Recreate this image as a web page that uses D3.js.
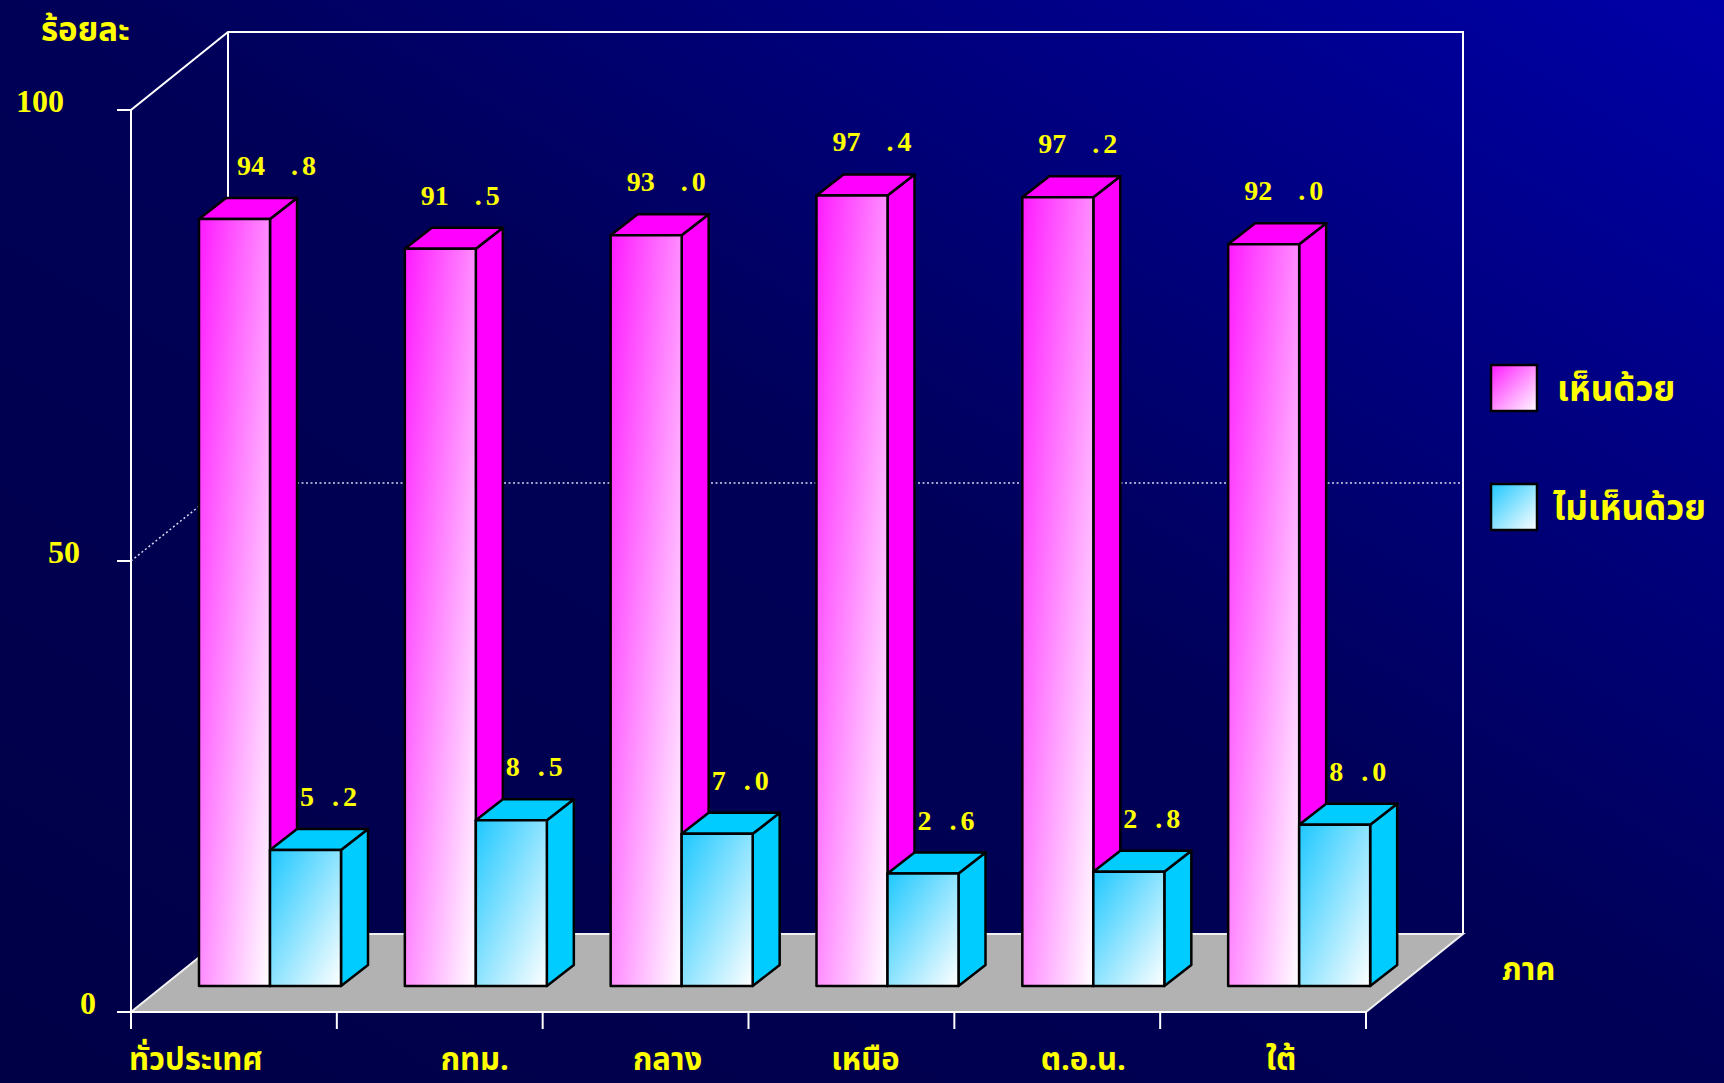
<!DOCTYPE html>
<html>
<head>
<meta charset="utf-8">
<script src="https://cdnjs.cloudflare.com/ajax/libs/d3/7.8.5/d3.min.js"></script>
<style>
  html, body { margin: 0; padding: 0; background: #00004c; overflow: hidden; }
  .thai { font-family: "Noto Sans Thai", "Noto Serif Thai", "Loma", "Garuda", "Norasi", "DejaVu Sans", sans-serif; font-weight: bold; fill: #ffff00; }
  .num { font-family: "Liberation Serif", "DejaVu Serif", serif; font-weight: bold; fill: #ffff00; }
</style>
</head>
<body>
<div id="chart"></div>
<script>
// data
var regions = ["ทั่วประเทศ", "กทม.", "กลาง", "เหนือ", "ต.อ.น.", "ใต้"];
var agree = [94.8, 91.5, 93.0, 97.4, 97.2, 92.0];
var disagree = [5.2, 8.5, 7.0, 2.6, 2.8, 8.0];
var seriesNames = ["เห็นด้วย", "ไม่เห็นด้วย"];
var yTicks = [0, 50, 100];

var width = 1724, height = 1083;

// front plane of the box and its depth
var frontLeft = 131, frontRight = 1366, floorY = 1012, topY = 110;
var depthX = 97, depthY = -78;
// bars stand a third of the way back, and are ~0.28 of the depth deep
var barShiftX = 32, barShiftY = -26;
var barDepthX = 27, barDepthY = -21;

var svg = d3.select("#chart").append("svg")
  .attr("width", width)
  .attr("height", height);

var defs = svg.append("defs");

var bgGrad = defs.append("linearGradient")
  .attr("id", "bg")
  .attr("x1", 1).attr("y1", 0).attr("x2", 0).attr("y2", 1);
bgGrad.append("stop").attr("offset", 0).attr("stop-color", "#0000a8");
bgGrad.append("stop").attr("offset", 0.48).attr("stop-color", "#000058");
bgGrad.append("stop").attr("offset", 1).attr("stop-color", "#000046");

function faceGradient(id, color) {
  var g = defs.append("linearGradient")
    .attr("id", id)
    .attr("x1", 0).attr("y1", 0).attr("x2", 1).attr("y2", 1);
  g.append("stop").attr("offset", 0).attr("stop-color", color);
  g.append("stop").attr("offset", 1).attr("stop-color", "#ffffff");
}
faceGradient("pinkFace", "#ff1aff");
faceGradient("cyanFace", "#1ec8ff");

var seriesStyle = [
  { face: "url(#pinkFace)", solid: "#ff00ff", lift: 88, decGap: 26, nudge: [22, 0, 0, 0, 0, 0] },
  { face: "url(#cyanFace)", solid: "#00ccff", lift: -89, decGap: 18, nudge: [0, 0, 0, 0, 0, 0] }
];

svg.append("rect")
  .attr("width", width)
  .attr("height", height)
  .attr("fill", "url(#bg)");

// scales
var x = d3.scaleBand()
  .domain(regions)
  .range([frontLeft, frontRight]);

var xSeries = d3.scaleBand()
  .domain(seriesNames)
  .range([0, 142]);

var y = d3.scaleLinear()
  .domain([0, 100])
  .range([floorY, topY]);

// same scale, moved to the plane where the bars stand
var barBottom = floorY + barShiftY;
var ySeries = seriesStyle.map(function(s) {
  return d3.scaleLinear()
    .domain([0, 100])
    .range([barBottom + s.lift, y(100) + barShiftY + s.lift]);
});

function pts(arr) {
  return arr.map(function(p) { return p[0] + "," + p[1]; }).join(" ");
}

var walls = svg.append("g")
  .attr("fill", "none")
  .attr("stroke", "#ffffff")
  .attr("stroke-width", 2);

// floor
svg.append("polygon")
  .attr("points", pts([
    [frontLeft, floorY], [frontRight, floorY],
    [frontRight + depthX, floorY + depthY], [frontLeft + depthX, floorY + depthY]
  ]))
  .attr("fill", "#b2b2b2")
  .attr("stroke", "#f0f0f0")
  .attr("stroke-width", 2);

// back wall + side wall outline
walls.append("polyline")
  .attr("points", pts([
    [frontLeft, y(0)], [frontLeft, y(100)],
    [frontLeft + depthX, y(100) + depthY],
    [frontRight + depthX, y(100) + depthY],
    [frontRight + depthX, y(0) + depthY]
  ]));
walls.append("line")
  .attr("x1", frontLeft + depthX).attr("y1", y(100) + depthY)
  .attr("x2", frontLeft + depthX).attr("y2", y(0) + depthY);

// gridline at 50
svg.append("polyline")
  .attr("points", pts([
    [frontLeft, y(50)], [frontLeft + depthX, y(50) + depthY], [frontRight + depthX, y(50) + depthY]
  ]))
  .attr("fill", "none")
  .attr("stroke", "#d8d8f0")
  .attr("stroke-width", 1.5)
  .attr("stroke-dasharray", "2,2.5");

// y ticks and labels
var yLabelX = d3.scaleLinear().domain([0, 100]).range([88, 40]);

svg.append("g").selectAll("line")
  .data(yTicks)
  .enter().append("line")
  .attr("x1", frontLeft - 14)
  .attr("x2", frontLeft)
  .attr("y1", function(d) { return y(d); })
  .attr("y2", function(d) { return y(d); })
  .attr("stroke", "#ffffff")
  .attr("stroke-width", 2);

svg.append("g").selectAll("text")
  .data(yTicks)
  .enter().append("text")
  .attr("class", "num")
  .attr("x", function(d) { return yLabelX(d); })
  .attr("y", function(d) { return y(d) + 2; })
  .attr("text-anchor", "middle")
  .attr("font-size", 32)
  .text(function(d) { return d; });

// x axis ticks
var xEdges = regions.map(function(d) { return x(d); }).concat([frontRight]);
svg.append("g").selectAll("line")
  .data(xEdges)
  .enter().append("line")
  .attr("x1", function(d) { return d; })
  .attr("x2", function(d) { return d; })
  .attr("y1", floorY)
  .attr("y2", floorY + 17)
  .attr("stroke", "#ffffff")
  .attr("stroke-width", 2);

svg.append("line")
  .attr("x1", frontLeft - 14).attr("x2", frontRight)
  .attr("y1", floorY).attr("y2", floorY)
  .attr("stroke", "#ffffff")
  .attr("stroke-width", 2);

// category labels (nudged like in the source slide)
var catNudge = [-38, 35, 22, 14, 26, 18];
svg.append("g").selectAll("text")
  .data(regions)
  .enter().append("text")
  .attr("class", "thai")
  .attr("x", function(d, i) { return x(d) + x.bandwidth() / 2 + catNudge[i]; })
  .attr("y", 1070)
  .attr("text-anchor", "middle")
  .attr("font-size", 31)
  .text(function(d) { return d; });

// bars
var barLayer = svg.append("g");

function drawBar(g, x0, w, yTop, yBot, style) {
  var dx = barDepthX, dy = barDepthY;
  g.append("polygon")
    .attr("points", pts([[x0 + w, yTop], [x0 + w + dx, yTop + dy], [x0 + w + dx, yBot + dy], [x0 + w, yBot]]))
    .attr("fill", style.solid);
  g.append("polygon")
    .attr("points", pts([[x0, yTop], [x0 + dx, yTop + dy], [x0 + w + dx, yTop + dy], [x0 + w, yTop]]))
    .attr("fill", style.solid);
  g.append("rect")
    .attr("x", x0)
    .attr("y", yTop)
    .attr("width", w)
    .attr("height", yBot - yTop)
    .attr("fill", style.face);
  g.selectAll("*")
    .attr("stroke", "#000000")
    .attr("stroke-width", 2.5)
    .attr("stroke-linejoin", "round");
}

var seriesValues = [agree, disagree];

regions.forEach(function(r, i) {
  seriesNames.forEach(function(s, k) {
    var v = seriesValues[k][i];
    var x0 = x(r) + 36 + barShiftX + xSeries(s);
    var yTop = ySeries[k](v);
    var g = barLayer.append("g");
    drawBar(g, x0, xSeries.bandwidth(), yTop, barBottom, seriesStyle[k]);

    var parts = v.toFixed(1).split(".");
    var lx = x0 + 44 + seriesStyle[k].nudge[i];
    var ly = yTop - 44;
    g.append("text")
      .attr("class", "num")
      .attr("x", lx)
      .attr("y", ly)
      .attr("text-anchor", "end")
      .attr("font-size", 28)
      .text(parts[0]);
    var dec = g.append("text")
      .attr("class", "num")
      .attr("x", lx + seriesStyle[k].decGap)
      .attr("y", ly)
      .attr("font-size", 28);
    dec.append("tspan").text(".");
    dec.append("tspan").attr("dx", 4).text(parts[1]);
  });
});

// legend
var legend = svg.append("g").selectAll("g")
  .data(seriesNames)
  .enter().append("g")
  .attr("transform", function(d, i) { return "translate(1491," + (365 + i * 119) + ")"; });

legend.append("rect")
  .attr("width", 46)
  .attr("height", 46)
  .attr("fill", function(d, i) { return seriesStyle[i].face; })
  .attr("stroke", "#000000")
  .attr("stroke-width", 2.5);

legend.append("text")
  .attr("class", "thai")
  .attr("x", function(d, i) { return i == 0 ? 66 : 62; })
  .attr("y", 36)
  .attr("font-size", 35)
  .text(function(d) { return d; });

// axis titles
svg.append("text")
  .attr("class", "thai")
  .attr("x", 41)
  .attr("y", 41)
  .attr("font-size", 33)
  .text("ร้อยละ");

svg.append("text")
  .attr("class", "thai")
  .attr("x", 1502)
  .attr("y", 980)
  .attr("font-size", 31)
  .text("ภาค");
</script>
</body>
</html>
